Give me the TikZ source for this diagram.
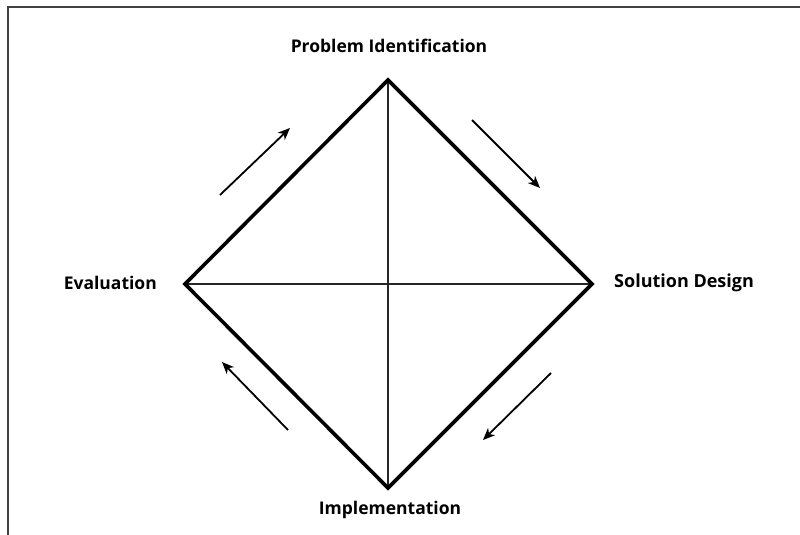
\documentclass[tikz,border=0pt]{standalone}
\usepackage{fontspec}
\setmainfont{Open Sans}
\usetikzlibrary{arrows.meta}
\begin{document}
\begin{tikzpicture}[x=1pt,y=-1pt,
  edge/.style={line width=3.6pt,line join=miter},
  axis/.style={line width=1.1pt,draw=black!85},
  flow/.style={line width=1.8pt,-{Stealth[length=12pt,width=10pt,inset=3.5pt]}},
  stage/.style={font=\fontsize{17.5}{19}\selectfont\bfseries,inner sep=0pt},
  frameline/.style={line width=2pt,draw=black!75}]
\useasboundingbox (0,0) rectangle (800,535);
% frame: top and left edges
\draw[frameline] (800,7) -- (8,7) -- (8,535);
% corners of the cycle
\coordinate (top) at (388,80);
\coordinate (right) at (592,284);
\coordinate (bottom) at (388,488);
\coordinate (left) at (185,284);
% axes
\draw[axis] (top) -- (bottom);
\draw[axis] (left) -- (right);
% diamond
\draw[edge] (top) -- (right) -- (bottom) -- (left) -- cycle;
% labels
\node[stage] (pi) at (389,46) {Problem Identification};
\node[stage,anchor=east] (ev) at (157,283) {Evaluation};
\node[stage,anchor=west,font=\fontsize{18}{19}\selectfont\bfseries] (sd) at (614,283) {Solution Design};
\node[stage] (im) at (390,510) {Implementation};
% direction arrows
\coordinate (a1s) at (220,195); \coordinate (a1e) at (290,128);
\coordinate (a2s) at (472,120); \coordinate (a2e) at (540,188);
\coordinate (a3s) at (551,373); \coordinate (a3e) at (483,440);
\coordinate (a4s) at (288,430); \coordinate (a4e) at (222,362);
\draw[flow] (a1s) -- (a1e);
\draw[flow] (a2s) -- (a2e);
\draw[flow] (a3s) -- (a3e);
\draw[flow] (a4s) -- (a4e);
\end{tikzpicture}
\end{document}
